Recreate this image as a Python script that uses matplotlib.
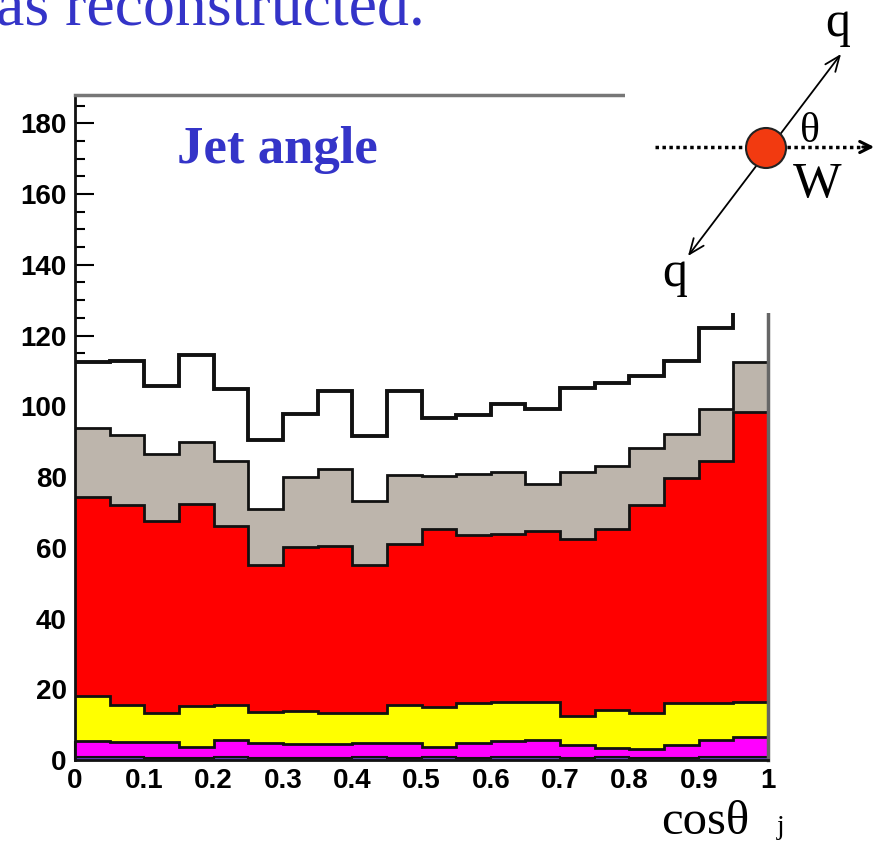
import matplotlib.pyplot as plt
import numpy as np
from matplotlib.patches import Circle, Rectangle

# 20 bins in cos(theta_j), values read as stacked tops (THStack style)
edges = np.linspace(0, 1, 21)
stack_total = [112.5, 112.7, 105.7, 114.5, 105.0, 90.5, 97.7, 104.2, 91.5, 104.3,
               96.6, 97.5, 100.6, 99.2, 105.3, 106.7, 108.6, 112.9, 122.0, 140.0]
stack_gray = [94.0, 91.8, 86.6, 90.0, 84.4, 71.1, 79.9, 82.2, 73.2, 80.7,
              80.2, 80.9, 81.4, 77.9, 81.3, 83.2, 88.3, 92.1, 99.2, 112.4]
stack_red = [74.3, 72.0, 67.5, 72.5, 66.1, 55.0, 60.3, 60.6, 55.0, 61.2,
             65.4, 63.7, 64.0, 64.6, 62.6, 65.2, 72.2, 79.6, 84.5, 98.3]
stack_yellow = [18.1, 15.6, 13.2, 15.3, 15.6, 13.5, 13.9, 13.2, 13.2, 15.6,
                15.1, 16.2, 16.5, 16.5, 12.3, 14.0, 13.4, 16.0, 16.0, 16.5]
stack_magenta = [5.5, 5.2, 5.2, 3.8, 5.7, 4.9, 4.4, 4.4, 4.7, 4.7,
                 3.8, 4.7, 5.4, 5.7, 4.2, 3.3, 3.0, 4.2, 5.7, 6.6]
stack_blue = [0.8, 0.8, 0.6, 0.7, 0.8, 0.7, 0.7, 0.7, 0.8, 0.7,
              0.8, 0.7, 0.8, 0.8, 0.7, 0.8, 0.7, 0.7, 0.8, 0.8]

layers = [(stack_total, 'white', 2.8),
          (stack_gray, '#bdb5ac', 2.0),
          (stack_red, '#ff0000', 2.0),
          (stack_yellow, '#ffff00', 2.0),
          (stack_magenta, '#ff00ff', 2.0),
          (stack_blue, '#5a3cb4', 1.5)]

xticks = np.arange(0, 1.01, 0.1)
xtick_labels = ['0', '0.1', '0.2', '0.3', '0.4', '0.5', '0.6', '0.7', '0.8', '0.9', '1']
yticks = np.arange(0, 181, 20)

W, H = 883, 842
fig = plt.figure(figsize=(W / 100, H / 100), dpi=100)
ax = fig.add_axes([75 / W, 1 - 760 / H, 693 / W, 665 / H])

z = 1
for vals, col, lw in layers:
    ax.stairs(vals, edges, baseline=0, fill=True, facecolor=col, edgecolor='none', zorder=z)
    ax.stairs(vals, edges, baseline=None, color='#111111', lw=lw, zorder=z + 0.5)
    z += 1

ax.set_xlim(0, 1)
ax.set_ylim(0, 188)
ax.set_axisbelow(True)
ax.set_xticks(xticks)
ax.set_xticklabels(xtick_labels)
ax.set_xticks(np.arange(0, 1.001, 0.02), minor=True)
ax.set_yticks(yticks)
ax.set_yticks(np.arange(0, 188, 5), minor=True)
ax.tick_params(axis='both', which='major', direction='in', length=14, width=1.5, pad=6)
ax.tick_params(axis='both', which='minor', direction='in', length=7, width=1.5)
for lab in ax.get_xticklabels() + ax.get_yticklabels():
    lab.set_fontfamily('Liberation Sans')
    lab.set_fontweight('bold')
    lab.set_fontsize(20)
for s in ['left', 'bottom']:
    ax.spines[s].set_linewidth(2)
    ax.spines[s].set_color('#111111')
ax.spines['top'].set_linewidth(2.5)
ax.spines['top'].set_color('#777777')
ax.spines['right'].set_linewidth(2.5)
ax.spines['right'].set_color('#666666')
for s in ax.spines.values():
    s.set_zorder(20)

# overlay in pixel coordinates for the texts and the W -> qq sketch
ov = fig.add_axes([0, 0, 1, 1], zorder=5)
ov.set_xlim(0, W)
ov.set_ylim(H, 0)
ov.axis('off')
ov.add_patch(Rectangle((625, 0), W - 625, 313, facecolor='white', edgecolor='none', zorder=0))

blue = '#3434c8'
ov.text(-4, 25, 'as reconstructed.', fontsize=46, family='Liberation Serif',
        color=blue, ha='left', va='baseline')
ov.text(177, 163, 'Jet angle', fontsize=38, family='Liberation Serif', fontweight='bold',
        color=blue, ha='left', va='baseline')

ov.plot([655, 866], [147, 147], color='k', lw=2.5, ls=(0, (1, 1)), zorder=1)
ov.annotate('', xy=(877, 147), xytext=(860, 147),
            arrowprops=dict(arrowstyle='->,head_length=0.8,head_width=0.4', lw=2.2, color='k'))
ov.annotate('', xy=(841, 54), xytext=(688, 256),
            arrowprops=dict(arrowstyle='<->,head_length=1.1,head_width=0.45', lw=1.3, color='k',
                            shrinkA=0, shrinkB=0))
ov.add_patch(Circle((766, 148), 20, facecolor='#f23a10', edgecolor='#222222', lw=1.5, zorder=3))

ov.text(838, 36, 'q', fontsize=36, family='Liberation Serif', ha='center', va='baseline')
ov.text(675, 286, 'q', fontsize=36, family='Liberation Serif', ha='center', va='baseline')
ov.text(817, 197, 'W', fontsize=37, family='Liberation Serif', ha='center', va='baseline')
ov.text(810, 142, 'θ', fontsize=30, family='Liberation Serif', ha='center', va='baseline')

ov.text(661, 834, 'cosθ', fontsize=35, family='Liberation Serif', ha='left', va='baseline')
ov.text(777, 834, 'j', fontsize=20, family='Liberation Serif', ha='left', va='baseline')

fig.savefig('out.png', dpi=100)
